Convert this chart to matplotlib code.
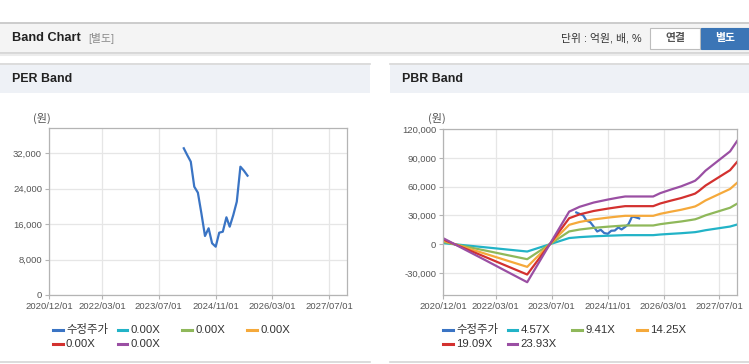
import matplotlib
matplotlib.use("Agg")
import matplotlib.pyplot as plt
import matplotlib.dates as mdates
from matplotlib.patches import Rectangle
from matplotlib.lines import Line2D
from matplotlib.ticker import FuncFormatter
import pandas as pd

plt.rcParams['font.family'] = ['Liberation Sans', 'Noto Sans CJK KR', 'DejaVu Sans']

# --- data ---
price_dates = ['2024-02-01', '2024-03-01', '2024-04-01', '2024-05-01', '2024-06-01',
               '2024-07-01', '2024-08-01', '2024-09-01', '2024-10-01', '2024-11-01',
               '2024-12-01', '2025-01-01', '2025-02-01', '2025-03-01', '2025-04-01',
               '2025-05-01', '2025-06-01', '2025-07-01', '2025-08-01']
price = [33140, 31630, 30110, 24460, 23110, 18460, 13330, 15070, 11680, 10910,
         14070, 14300, 17550, 15430, 18070, 21080, 28980, 28080, 26950]

bps_dates = ['2020-12-01', '2021-06-01', '2021-12-01', '2022-06-01', '2022-12-01',
             '2023-12-01', '2024-03-01', '2024-07-01', '2024-11-01', '2025-02-01',
             '2025-04-01', '2025-12-01', '2026-02-01', '2026-05-01', '2026-08-01',
             '2026-11-01', '2026-12-01', '2027-01-01', '2027-03-01', '2027-07-01',
             '2027-10-01', '2027-12-01']
bps = [262, -215, -690, -1170, -1650, 1420, 1630, 1815, 1945, 2030, 2079, 2079,
       2225, 2375, 2520, 2700, 2765, 2900, 3200, 3680, 4040, 4490]

pbr_multiples = [4.57, 9.41, 14.25, 19.09, 23.93]
per_labels = ['0.00X', '0.00X', '0.00X', '0.00X', '0.00X']
pbr_labels = ['4.57X', '9.41X', '14.25X', '19.09X', '23.93X']

x_ticks = ['2020-12-01', '2022-03-01', '2023-07-01', '2024-11-01', '2026-03-01', '2027-07-01']
per_yticks = [0, 8000, 16000, 24000, 32000]
pbr_yticks = [-30000, 0, 30000, 60000, 90000, 120000]

price_color = '#3a74c4'
band_colors = ['#22b3c7', '#8fb85a', '#f5a93b', '#d3312f', '#9a4fa3']

W, H = 749, 364
fig = plt.figure(figsize=(W / 100, H / 100), dpi=100)
fig.patch.set_facecolor('white')


def fx(x):
    return x / W


def fy(y):
    return 1 - y / H


def box(x0, y0, x1, y1, fc, ec='none', lw=0):
    fig.add_artist(Rectangle((fx(x0), fy(y1)), (x1 - x0) / W, (y1 - y0) / H,
                             transform=fig.transFigure, facecolor=fc, edgecolor=ec, linewidth=lw))


def hline(x0, x1, y, color, lw=1):
    fig.add_artist(Line2D([fx(x0), fx(x1)], [fy(y), fy(y)], transform=fig.transFigure,
                          color=color, linewidth=lw))


# top header bar
box(0, 23, W, 52.5, '#f4f4f4')
hline(0, W, 22.5, '#c4c4c4', 1.2)
hline(0, W, 53, '#d2d2d2', 1.2)
hline(0, W, 54.5, '#ececec', 1.5)
fig.text(fx(12), fy(38), 'Band Chart', fontsize=9.2, fontweight='bold', color='#222', va='center')
fig.text(fx(88), fy(38.5), '[별도]', fontsize=7.8, color='#8a8a8a', va='center')
fig.text(fx(642), fy(38.5), '단위 : 억원, 배, %', fontsize=7.8, color='#333', va='center', ha='right')
box(650, 28, 700, 48.5, 'white', '#bdbdbd', 0.8)
fig.text(fx(675), fy(38.5), '연결', fontsize=7.8, color='#555', va='center', ha='center', fontweight='bold')
box(701, 28, W, 48.5, '#3b75b6', '#3b75b6', 0.8)
fig.text(fx(725), fy(38.5), '별도', fontsize=7.8, color='white', va='center', ha='center', fontweight='bold')

# panel headers and bottom borders
for px0, px1, title in [(0, 370, 'PER Band'), (390, W, 'PBR Band')]:
    box(px0, 64.5, px1, 92.5, '#eef1f6')
    hline(px0, px1, 64.2, '#d6d6d6', 1.2)
    hline(px0, px1, 362.3, '#d6d6d6', 1.2)
    fig.text(fx(px0 + 12), fy(79.5), title, fontsize=8.9, fontweight='bold', color='#222', va='center')

tick_dates = pd.to_datetime(x_ticks)
xmin, xmax = pd.Timestamp('2020-12-01'), pd.Timestamp('2027-12-03')


def style_axes(ax, yticks, ylim):
    ax.set_xlim(xmin, xmax)
    ax.set_ylim(*ylim)
    ax.set_xticks(tick_dates)
    ax.xaxis.set_major_formatter(mdates.DateFormatter('%Y/%m/%d'))
    ax.set_yticks(yticks)
    ax.yaxis.set_major_formatter(FuncFormatter(lambda v, p: f'{v:,.0f}'))
    ax.grid(True, color='#e6e6e6', linewidth=0.9)
    ax.set_axisbelow(True)
    for s in ax.spines.values():
        s.set_color('#b4b4b4')
        s.set_linewidth(0.9)
    ax.tick_params(axis='both', labelsize=6.8, colors='#b4b4b4', labelcolor='#555', length=3, width=0.8, pad=2)


# PER band
ax1 = fig.add_axes([fx(49), fy(295), 298 / W, 167 / H])
ax1.plot(pd.to_datetime(price_dates), price, color=price_color, linewidth=1.6)
style_axes(ax1, per_yticks, (0, 37720))
fig.text(fx(33), fy(118), '(원)', fontsize=8, color='#555', va='center', family='Noto Sans CJK KR')

# PBR band
ax2 = fig.add_axes([fx(443.3), fy(295), 294 / W, 166 / H])
ax2.plot(pd.to_datetime(price_dates), price, color=price_color, linewidth=1.6)
bd = pd.to_datetime(bps_dates)
for m, c in zip(pbr_multiples, band_colors):
    ax2.plot(bd, [m * b for b in bps], color=c, linewidth=1.6)
style_axes(ax2, pbr_yticks, (-52800, 120000))
fig.text(fx(428), fy(118), '(원)', fontsize=8, color='#555', va='center', family='Noto Sans CJK KR')


# legends
def draw_legend(px0, labels):
    entries = [('수정주가', price_color)] + list(zip(labels, band_colors))
    for i, (lab, c) in enumerate(entries):
        col, row = i % 4, i // 4
        x = px0 + 53 + col * 64.7
        y = 330 + row * 14.3
        fig.add_artist(Line2D([fx(x), fx(x + 9.5)], [fy(y), fy(y)], transform=fig.transFigure,
                              color=c, linewidth=2.2))
        fig.text(fx(x + 13), fy(y), lab, fontsize=8.2, color='#333', va='center')


draw_legend(0, per_labels)
draw_legend(390, pbr_labels)

fig.savefig('out.png', dpi=100)
